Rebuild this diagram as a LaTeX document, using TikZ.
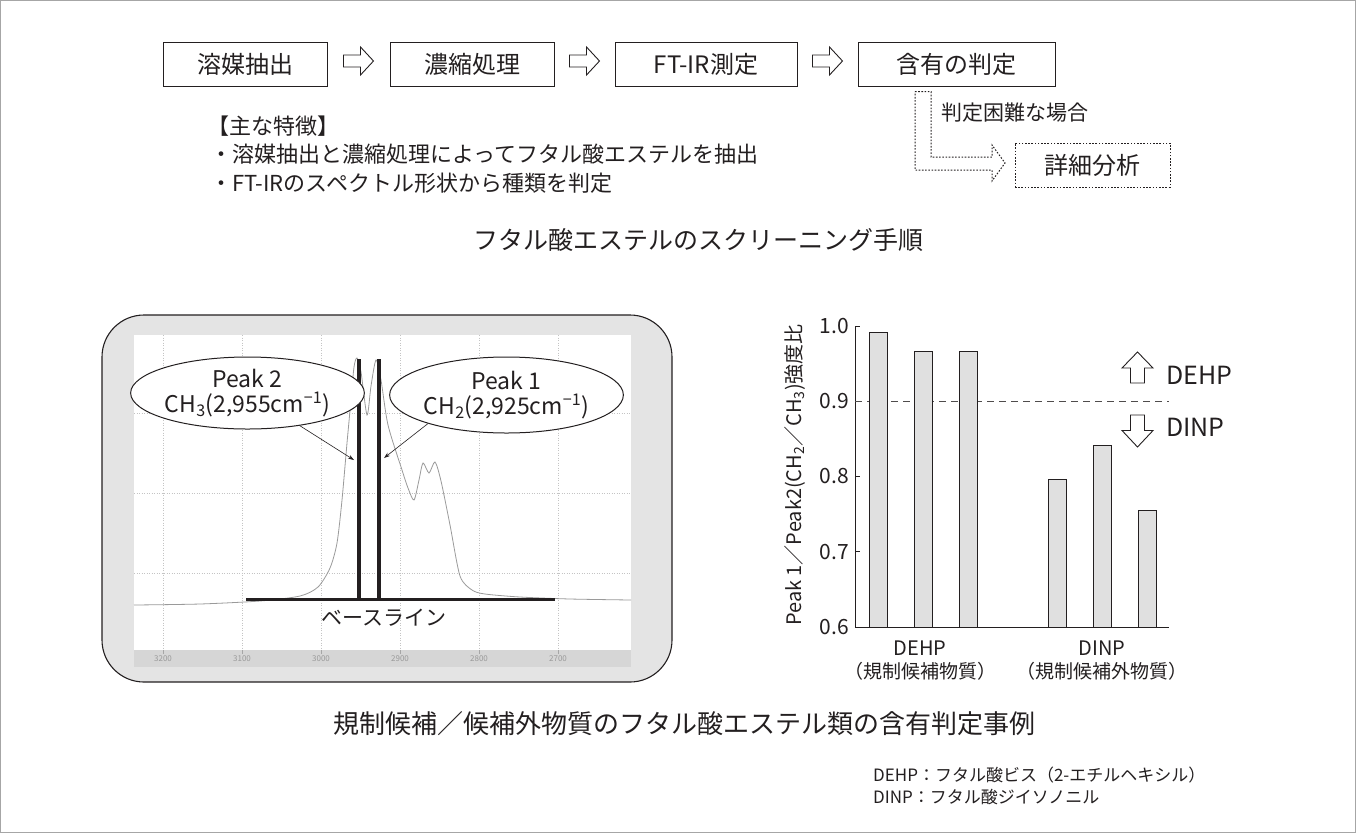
\documentclass[tikz,border=0pt]{standalone}
\usepackage{fontspec}
\setmainfont{Noto Sans CJK JP}
\usetikzlibrary{shapes.geometric,arrows.meta,calc}
\definecolor{ink}{HTML}{231F20}
\definecolor{panelgray}{HTML}{E4E4E4}
\definecolor{bandgray}{HTML}{D6D6D6}
\definecolor{gridgray}{HTML}{C4C4C4}
\definecolor{curvegray}{HTML}{9A9A9A}
\definecolor{bargray}{HTML}{E0E0E0}
\newcommand{\fs}[2][1.15]{\fontsize{#2}{#1\dimexpr #2pt\relax}\selectfont}
\begin{document}
\begin{tikzpicture}[x=1pt,y=-1pt,
  every node/.style={text=ink},
  stepbox/.style={draw=ink, line width=1pt, minimum height=44pt, inner sep=0pt, font=\fs{24}},
  dotline/.style={draw=ink, line width=1pt, dash pattern=on 1.6pt off 1.6pt},
  bodytext/.style={anchor=west, inner sep=0pt, font=\fs{22}},
  gridline/.style={gridgray, line width=0.6pt, dash pattern=on 1pt off 1.5pt},
  bar/.style={draw=ink, line width=1pt, fill=bargray},
  peakbubble/.style={ellipse, draw=ink, line width=1pt, fill=white, inner sep=0pt, align=center, font=\fontsize{23}{25}\selectfont},
  pointer/.style={draw=ink, line width=0.6pt, -{Stealth[length=6pt,width=4pt]}},
  tick/.style={anchor=east, inner sep=0pt, font=\fs{21}},
  hollow/.style={draw=ink, line width=0.9pt, fill=white, line join=miter},
  rightarrow/.pic={\draw[hollow] (-15,-6) -- (2,-6) -- (2,-14) -- (15,0) -- (2,14) -- (2,6) -- (-15,6) -- cycle;},
  uparrow/.pic={\draw[hollow] (0,-15.5) -- (15.5,0.5) -- (7,0.5) -- (7,15.5) -- (-7,15.5) -- (-7,0.5) -- (-15.5,0.5) -- cycle;},
  downarrow/.pic={\draw[hollow] (0,16) -- (15.5,-0.5) -- (7,-0.5) -- (7,-16) -- (-7,-16) -- (-7,-0.5) -- (-15.5,-0.5) -- cycle;}
]
\useasboundingbox (0,0) rectangle (1356,833);
\draw[gray!70, line width=0.8pt] (0.5,0.5) rectangle (1355.5,832.5);

% ---------- flow ----------
\node[stepbox, minimum width=164pt] (b1) at (245,64) {溶媒抽出};
\node[stepbox, minimum width=164pt] (b2) at (472,64) {濃縮処理};
\node[stepbox, minimum width=182pt] (b3) at (706,64) {FT-IR測定};
\node[stepbox, minimum width=197pt] (b4) at (956.5,64) {含有の判定};
\coordinate (a1) at ($(b1.east)!0.5!(b2.west)+(0,-3)$);
\coordinate (a2) at ($(b2.east)!0.5!(b3.west)+(0,-3)$);
\coordinate (a3) at ($(b3.east)!0.5!(b4.west)+(0,-3)$);
\pic at (a1) {rightarrow};
\pic at (a2) {rightarrow};
\pic at (a3) {rightarrow};

\node[dotline, minimum width=155pt, minimum height=44pt, inner sep=0pt, font=\fs{24}] (d1) at (1092.5,165) {詳細分析};
\coordinate (ltop) at (b4.south -| 923,0);
\draw[dotline] ($(ltop)+(-8,5)$) -- ($(ltop)+(8,5)$) -- (931,157) -- (992,157) -- (992,145)
  -- (1005,163) -- (992,181) -- (992,170) -- (915,170) -- cycle;
\node[anchor=west, inner sep=0pt, font=\fs{21}] (hard) at (941,113) {判定困難な場合};

\node[bodytext] (f0) at (207,126) {【主な特徴】};
\node[bodytext] (f1) at (210,154) {・溶媒抽出と濃縮処理によってフタル酸エステルを抽出};
\node[bodytext] (f2) at (210,183) {・FT-IRのスペクトル形状から種類を判定};

\node[font=\fs{25}] (title1) at (698,240) {フタル酸エステルのスクリーニング手順};

% ---------- spectrum panel ----------
\draw[draw=ink, line width=1.1pt, fill=panelgray, rounded corners=42pt] (102,315) rectangle (672,682);
\fill[white] (134,335) rectangle (631,667);
\fill[bandgray] (134,650) rectangle (631,667);
\foreach \w in {3200,3100,3000,2900,2800,2700}{
  \pgfmathsetmacro{\xx}{321-(\w-3000)*0.79}
  \draw[gridline] (\xx,335) -- (\xx,650);
  \draw[gray!70, line width=0.5pt] (\xx,650) -- (\xx,654);
  \node[font=\fs{8}, text=gray!80] at (\xx,659) {\w};
}
\foreach \yy in {413,493,573}{ \draw[gridline] (134,\yy) -- (631,\yy); }
\draw[curvegray, line width=0.8pt] plot[smooth, tension=0.45] coordinates {
 (134,605) (200,604) (260,601) (300,596) (318,587) (330,568) (337,543) (342,500) (347,443)
 (351,400) (354,367) (357,358) (361,372) (367,415) (371,386) (376,360) (381,380) (388,425)
 (402,470) (408,488) (414,500) (419,480) (423,463) (429,473) (435,462) (441,481) (450,525)
 (460,576) (472,590) (485,594) (520,597) (570,599) (631,600)};
\coordinate (bl) at (246,599);
\coordinate (br) at (555,599);
\coordinate (p2top) at (359,359);
\coordinate (p1top) at (379,359);
\draw[ink, line width=4pt] (p2top) -- (p2top |- bl);
\draw[ink, line width=4pt] (p1top) -- (p1top |- bl);
\draw[ink, line width=3pt] (bl) -- (br);
\node[font=\fs{21}] (base) at (384,618) {ベースライン};
\node[peakbubble, minimum width=207pt, minimum height=72pt] (e2) at (247.5,393)
  {Peak 2\\CH\textsubscript{3}(2,955cm\textsuperscript{−1})};
\node[peakbubble, minimum width=208pt, minimum height=76pt] (e1) at (506.5,395)
  {Peak 1\\CH\textsubscript{2}(2,925cm\textsuperscript{−1})};
\coordinate (p2mid) at (354,460);
\coordinate (p1mid) at (384,458);
\draw[pointer] (e2.-32) -- (p2mid);
\draw[pointer] (e1.-160) -- (p1mid);

% ---------- bar chart ----------
\coordinate (o) at (855,627);
\draw[ink, line width=1pt] (855,326) -- (o) -- (1169,627);
\foreach \v in {0.6,0.7,0.8,0.9,1.0}{
  \pgfmathsetmacro{\yy}{627-(\v-0.6)*752.5}
  \draw[ink, line width=0.8pt] (855,\yy) -- (860,\yy);
  \node[tick] at (849,\yy) {\v};
}
\draw[ink!80, line width=1pt, dash pattern=on 7pt off 5pt] (855,401.25) -- (1169,401.25);
\foreach \c/\v in {878/0.992,923/0.966,968/0.966,1057.5/0.796,1102/0.841,1147/0.755}{
  \pgfmathsetmacro{\yy}{627-(\v-0.6)*752.5}
  \draw[bar] (\c-9,627) rectangle (\c+9,\yy);
}
\coordinate (up) at (1137.5,367.5);
\coordinate (dn) at (1137.5,431);
\pic at (up) {uparrow};
\pic at (dn) {downarrow};
\node[anchor=west, inner sep=0pt, font=\fs{25}] (dehp) at (1166,375) {DEHP};
\node[anchor=west, inner sep=0pt, font=\fs{25}] (dinp) at (1166,427) {DINP};
\node[rotate=90, font=\fs{20}] (ylab) at (795,475) {Peak 1／Peak2(CH\textsubscript{2}／CH\textsubscript{3})強度比};
\node[font=\fs{20}] (g1) at (920,648) {DEHP};
\node[font=\fs{19}] (g1b) at (920,671) {（規制候補物質）};
\node[font=\fs{20}] (g2) at (1102,648) {DINP};
\node[font=\fs{19}] (g2b) at (1102,671) {（規制候補外物質）};

% ---------- captions ----------
\node[font=\fs{26}] (title2) at (684,724) {規制候補／候補外物質のフタル酸エステル類の含有判定事例};
\node[anchor=west, inner sep=0pt, font=\fs{17}] (n1) at (873,775) {DEHP：フタル酸ビス（2-エチルヘキシル）};
\node[anchor=west, inner sep=0pt, font=\fs{17}] (n2) at (873,797) {DINP：フタル酸ジイソノニル};
\end{tikzpicture}
\end{document}
